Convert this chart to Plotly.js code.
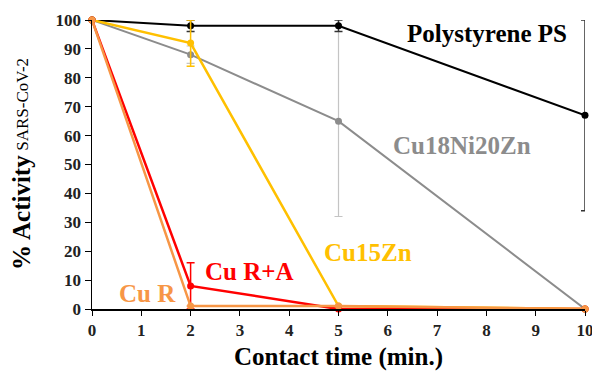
<!DOCTYPE html>
<html>
<head>
<meta charset="utf-8">
<script src="https://cdn.plot.ly/plotly-3.0.1.min.js"></script>
</head>
<body style="margin:0;background:#fff">
<div id="chart"></div>
<script>
// Contact time (min.)
const time = [0, 2, 5, 10];

// % activity of SARS-CoV-2 on each surface, with error (+/-)
const polystyrene = [100, 98, 98, 67];
const polystyreneErr = [0, 2, 2, 33];
const cu18ni20zn = [100, 88, 65, 0];
const cu18ni20znErr = [0, 3, 33, 0];
const cu15zn = [100, 92, 1, 0];
const cu15znErr = [0, 8, 0, 0];
const cuRA = [100, 8, 0, 0];
const cuRAErr = [0, 8, 0, 0];
const cuR = [100, 1, 1, 0];
const cuRErr = [0, 0, 0, 0];

const labels = ['Polystyrene PS', 'Cu18Ni20Zn', 'Cu15Zn', 'Cu R+A', 'Cu R'];
const xTicks = [0, 1, 2, 3, 4, 5, 6, 7, 8, 9, 10];
const yTicks = [0, 10, 20, 30, 40, 50, 60, 70, 80, 90, 100];

const FAMILY = 'Liberation Serif';

function series(y, err, color, errColor, width, errThick, name) {
  return {
    x: time, y: y, name: name, type: 'scatter', mode: 'lines+markers',
    line: {color: color, width: width},
    marker: {color: color, size: 7},
    error_y: {type: 'data', array: err, visible: true, color: errColor, thickness: errThick, width: 4},
    cliponaxis: false
  };
}

const traces = [
  series(cu18ni20zn, cu18ni20znErr, '#8c8c8c', '#c4c4c4', 2, 1.2, labels[1]),
  series(polystyrene, polystyreneErr, '#000000', '#333333', 2, 1.5, labels[0]),
  series(cu15zn, cu15znErr, '#FFC000', '#FFC000', 2.5, 1.5, labels[2]),
  series(cuRA, cuRAErr, '#FF0000', '#FF0000', 2.5, 1.5, labels[3]),
  series(cuR, cuRErr, '#F79646', '#F79646', 2.5, 1.5, labels[4])
];

function label(text, x, y, color) {
  return {xref: 'x', yref: 'y', x: x, y: y, showarrow: false, text: '<b>' + text + '</b>',
          font: {family: FAMILY, size: 25, color: color}};
}

const layout = {
  width: 592, height: 373,
  margin: {l: 92, r: 7, t: 20, b: 64},
  paper_bgcolor: '#ffffff', plot_bgcolor: '#ffffff',
  showlegend: false,
  xaxis: {
    range: [0, 10], tickvals: xTicks, ticktext: xTicks.map(v => '<b>' + v + '</b>'),
    showgrid: false, zeroline: false, showline: true, linecolor: '#000', linewidth: 1.5,
    ticks: 'outside', ticklen: 5, tickcolor: '#000', ticklabeloverflow: 'allow',
    tickfont: {family: FAMILY, size: 17, color: '#222'},
    title: {text: '<b>Contact time (min.)</b>', font: {family: FAMILY, size: 25, color: '#000'}, standoff: 8}
  },
  yaxis: {
    range: [0, 100], tickvals: yTicks, ticktext: yTicks.map(v => '<b>' + v + '</b>'),
    showgrid: false, zeroline: false, showline: true, linecolor: '#000', linewidth: 1.5,
    ticks: 'outside', ticklen: 6, tickcolor: '#000',
    tickfont: {family: FAMILY, size: 17, color: '#222'}
  },
  annotations: [
    {xref: 'paper', yref: 'paper', x: -0.142, y: 0.336, xanchor: 'center', yanchor: 'middle',
     textangle: -90, showarrow: false,
     text: '<b>% Activity</b>', font: {family: FAMILY, size: 25, color: '#000'}},
    {xref: 'paper', yref: 'paper', x: -0.14, y: 0.71, xanchor: 'center', yanchor: 'middle',
     textangle: -90, showarrow: false,
     text: 'SARS-CoV-2', font: {family: FAMILY, size: 17, color: '#000'}},
    label(labels[0], 8.01, 95.5, '#000'),
    label(labels[1], 7.5, 56.5, '#8c8c8c'),
    label(labels[2], 5.6, 19.5, '#FFC000'),
    label(labels[3], 3.2, 13, '#FF0000'),
    label(labels[4], 1.12, 5.5, '#F79646')
  ]
};

Plotly.newPlot('chart', traces, layout, {displayModeBar: false, staticPlot: true});
</script>
</body>
</html>
